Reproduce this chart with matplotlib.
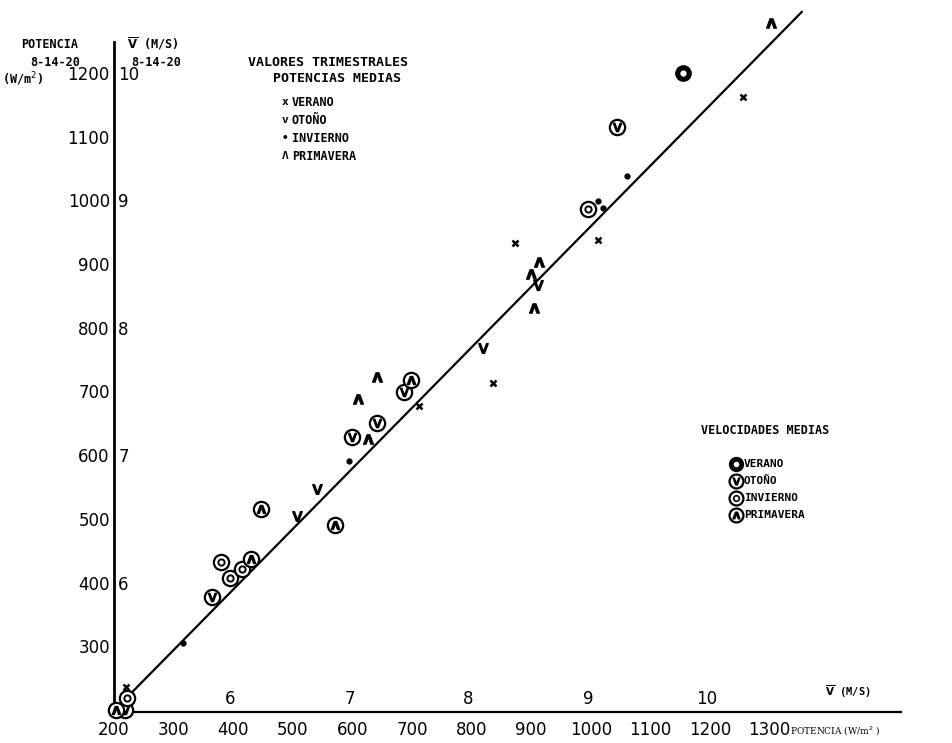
import numpy as np
import matplotlib.pyplot as plt

# potencia medida (eje x) vs potencia 8-14-20 (eje y), W/m2
# valores trimestrales - potencias medias
ver_x = [1255, 1012, 873, 836, 712, 220]
ver_y = [1165, 941, 936, 716, 680, 240]
oto_x = [911, 819, 541, 507]
oto_y = [870, 771, 550, 508]
inv_x = [1060, 1012, 1020, 594, 316]
inv_y = [1042, 1002, 991, 594, 308]
pri_x = [1302, 913, 900, 904, 609, 641, 626]
pri_y = [1282, 906, 888, 834, 691, 726, 628]

# velocidades medias
vver_x = [1155]
vver_y = [1203]
voto_x = [1044, 599, 686, 641, 365, 218]
voto_y = [1118, 632, 702, 654, 380, 203]
vinv_x = [995, 380, 395, 415, 222]
vinv_y = [990, 435, 410, 425, 222]
vpri_x = [447, 571, 698, 430, 203]
vpri_y = [519, 494, 721, 440, 203]

# recta de ajuste
recta_x = [205, 1354]
recta_y = [207, 1299]

pot_ticks = [200, 300, 400, 500, 600, 700, 800, 900, 1000, 1100, 1200, 1300]
ypot_ticks = [300, 400, 500, 600, 700, 800, 900, 1000, 1100, 1200]
vel_ticks = [6, 7, 8, 9, 10]
vel_pos = [400, 600, 800, 1000, 1200]

W, H = 952, 743
fig = plt.figure(figsize=(W / 100, H / 100), dpi=100)
ax = fig.add_axes([0, 0, 1, 1])
ax.axis('off')
# escala: 200 W/m2 en el origen de los ejes
ax.set_xlim(200 - 114 / 0.596, 200 + (W - 114) / 0.596)
ax.set_ylim(200 - (H - 712) / 0.637, 200 + 712 / 0.637)

def fx(px):
    return px / W

def fy(py):
    return 1 - py / H

# ejes
ax.plot([200, 200], [200, 1252], color='black', lw=2)
ax.plot([200, 1520], [200, 200], color='black', lw=1.6)

num = dict(fontsize=12, color='black', family='DejaVu Sans')
for t in pot_ticks:
    ax.text(t, 200 - 28, str(t), ha='center', va='center', **num)
for t in ypot_ticks:
    ax.text(193, t, str(t), ha='right', va='center', **num)
for v, p in zip(vel_ticks, vel_pos):
    ax.text(207, p, str(v), ha='left', va='center', **num)
    ax.text(p - 5, 207, str(v), ha='center', va='bottom', **num)

vbar = r'$\overline{\mathbf{V}}$ (M/S)'
mono = dict(family='DejaVu Sans Mono', fontweight='bold', color='black')
fig.text(fx(50), fy(45), 'POTENCIA', ha='center', va='center', fontsize=8.5, **mono)
fig.text(fx(55), fy(63), '8-14-20', ha='center', va='center', fontsize=8.5, **mono)
fig.text(fx(22), fy(79), '(W/m$^2$)', ha='center', va='center', fontsize=8.5, **mono)
fig.text(fx(153), fy(44), vbar, ha='center', va='center', fontsize=8.5, **mono)
fig.text(fx(156), fy(63), '8-14-20', ha='center', va='center', fontsize=8.5, **mono)

fig.text(fx(848), fy(692), vbar, ha='center', va='center', fontsize=7.5, **mono)
fig.text(fx(790), fy(731), 'POTENCIA (W/m$^2$ )', ha='left', va='center', fontsize=6.5,
         family='DejaVu Serif', color='black')

# leyenda potencias
fig.text(fx(328), fy(62), 'VALORES TRIMESTRALES', ha='center', va='center', fontsize=9.5, **mono)
fig.text(fx(337), fy(78), 'POTENCIAS MEDIAS', ha='center', va='center', fontsize=9.5, **mono)
ley1 = [('x', 'VERANO'), ('v', 'OTOÑO'), ('•', 'INVIERNO'), ('Λ', 'PRIMAVERA')]
for i, (m, lab) in enumerate(ley1):
    fig.text(fx(285), fy(102 + 18 * i), m, ha='center', va='center', fontsize=8, **mono)
    fig.text(fx(292), fy(102 + 18 * i), lab, ha='left', va='center', fontsize=8.5, **mono)

# leyenda velocidades
fig.text(fx(765), fy(431), 'VELOCIDADES MEDIAS', ha='center', va='center', fontsize=8.5, **mono)
ley2 = ['VERANO', 'OTOÑO', 'INVIERNO', 'PRIMAVERA']
for i, lab in enumerate(ley2):
    yy = fy(464 + 17 * i)
    fig.text(fx(744), yy, lab, ha='left', va='center', fontsize=8, **mono)

# recta
ax.plot(recta_x, recta_y, color='black', lw=1.6)

# puntos de velocidad (circulos)
circ = dict(ls='none', marker='o', ms=11, mfc='white', mec='black', mew=1.6)
ax.plot(vver_x, vver_y, ls='none', marker='o', ms=11, color='black')
ax.plot(vver_x, vver_y, ls='none', marker='o', ms=3.5, color='white')
ax.plot(voto_x, voto_y, **circ)
ax.plot(voto_x, voto_y, ls='none', marker=r'$\mathsf{v}$', ms=6, color='black')
ax.plot(vinv_x, vinv_y, **circ)
ax.plot(vinv_x, vinv_y, ls='none', marker='o', ms=4.5, mfc='white', mec='black', mew=1.4)
ax.plot(vpri_x, vpri_y, **circ)
ax.plot(vpri_x, vpri_y, ls='none', marker=r'$\mathbf{\Lambda}$', ms=6, color='black')

# puntos de potencia (encima de los circulos)
ax.plot(ver_x, ver_y, ls='none', marker='x', ms=5, mew=1.8, color='black', zorder=5)
ax.plot(oto_x, oto_y, ls='none', marker=r'$\mathsf{v}$', ms=7, color='black', zorder=5)
ax.plot(inv_x, inv_y, ls='none', marker='o', ms=3.5, color='black', zorder=5)
ax.plot(pri_x, pri_y, ls='none', marker=r'$\mathbf{\Lambda}$', ms=7, color='black', zorder=5)

# simbolos de la leyenda de velocidades
tf = dict(transform=fig.transFigure, clip_on=False, ls='none')
lx = [fx(736)] * 4
ly = [fy(464 + 17 * i) for i in range(4)]
ax.plot(lx[0], ly[0], marker='o', ms=10, color='black', **tf)
ax.plot(lx[0], ly[0], marker='o', ms=3, color='white', **tf)
ax.plot(lx[1], ly[1], marker='o', ms=10, mfc='white', mec='black', mew=1.6, **tf)
ax.plot(lx[1], ly[1], marker=r'$\mathsf{v}$', ms=5, color='black', **tf)
ax.plot(lx[2], ly[2], marker='o', ms=10, mfc='white', mec='black', mew=1.6, **tf)
ax.plot(lx[2], ly[2], marker='o', ms=4, mfc='white', mec='black', mew=1.2, **tf)
ax.plot(lx[3], ly[3], marker='o', ms=10, mfc='white', mec='black', mew=1.6, **tf)
ax.plot(lx[3], ly[3], marker=r'$\mathbf{\Lambda}$', ms=5, color='black', **tf)

plt.savefig('out.png', dpi=100)
